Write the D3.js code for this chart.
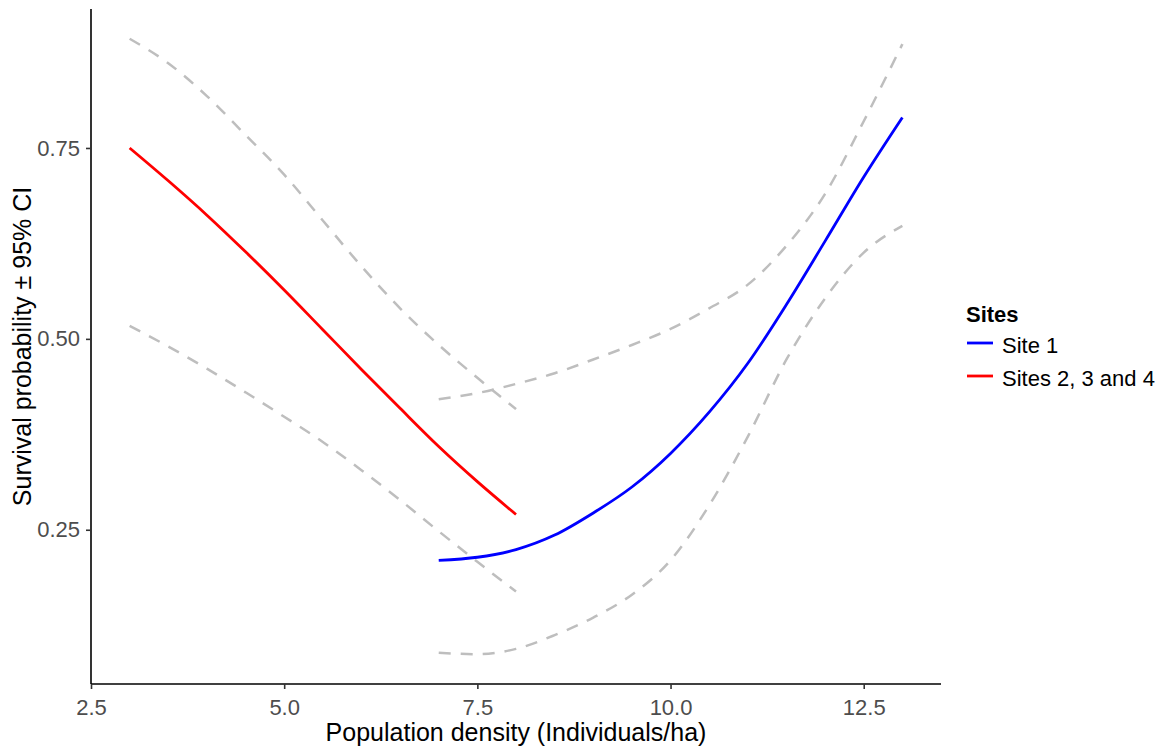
<!DOCTYPE html>
<html>
<head>
<meta charset="utf-8">
<script src="https://cdn.jsdelivr.net/npm/d3@7"></script>
<style>
  body { margin: 0; background: #fff; }
  svg { font-family: "Liberation Sans", Arial, sans-serif; }
</style>
</head>
<body>
<svg id="chart" width="1162" height="748"></svg>
<script>
// Population density (Individuals/ha)
const densityRed = [3, 3.5, 4, 4.5, 5, 5.5, 6, 6.5, 7, 7.5, 8];
const fitRed = [0.750, 0.707, 0.662, 0.614, 0.564, 0.512, 0.460, 0.409, 0.359, 0.313, 0.270];
const upperRed = [0.893, 0.861, 0.818, 0.767, 0.715, 0.655, 0.595, 0.540, 0.492, 0.449, 0.408];
const lowerRed = [0.517, 0.490, 0.461, 0.430, 0.398, 0.365, 0.328, 0.289, 0.248, 0.208, 0.169];

const densityBlue = [7, 7.5, 8, 8.5, 9, 9.5, 10, 10.5, 11, 11.5, 12, 12.5, 13];
const fitBlue = [0.210, 0.214, 0.224, 0.243, 0.272, 0.306, 0.350, 0.404, 0.468, 0.545, 0.628, 0.712, 0.790];
const upperBlue = [0.421, 0.429, 0.441, 0.455, 0.473, 0.492, 0.513, 0.540, 0.571, 0.622, 0.690, 0.785, 0.886];
const lowerBlue = [0.089, 0.087, 0.094, 0.112, 0.135, 0.165, 0.210, 0.282, 0.372, 0.473, 0.553, 0.613, 0.648];

const xTicks = [2.5, 5.0, 7.5, 10.0, 12.5];
const yTicks = [0.25, 0.50, 0.75];
const legendLabels = ['Site 1', 'Sites 2, 3 and 4'];
const legendColors = ['#0000FF', '#FF0000'];

const svg = d3.select('#chart');
const panel = { left: 91, right: 941, top: 9, bottom: 684 };

const x = d3.scaleLinear().domain([2.5, 13.5]).range([panel.left, panel.right]);
const y = d3.scaleLinear().domain([0.048, 0.932]).range([panel.bottom, panel.top]);

const line = d3.line()
  .x(d => x(d[0]))
  .y(d => y(d[1]))
  .curve(d3.curveMonotoneX);

const zip = (xs, ys) => xs.map((v, i) => [v, ys[i]]);

// confidence bands (dashed grey)
[[densityRed, upperRed], [densityRed, lowerRed], [densityBlue, upperBlue], [densityBlue, lowerBlue]]
  .forEach(function(pair) {
    svg.append('path')
      .attr('d', line(zip(pair[0], pair[1])))
      .attr('fill', 'none')
      .attr('stroke', '#BEBEBE')
      .attr('stroke-width', 2.5)
      .attr('stroke-dasharray', '12,10');
  });

// fitted lines
svg.append('path')
  .attr('d', line(zip(densityBlue, fitBlue)))
  .attr('fill', 'none')
  .attr('stroke', legendColors[0])
  .attr('stroke-width', 2.8);
svg.append('path')
  .attr('d', line(zip(densityRed, fitRed)))
  .attr('fill', 'none')
  .attr('stroke', legendColors[1])
  .attr('stroke-width', 2.8);

// axes
const xAxis = svg.append('g')
  .attr('transform', 'translate(0,' + panel.bottom + ')')
  .call(d3.axisBottom(x).tickValues(xTicks).tickFormat(d3.format('.1f')).tickSizeOuter(0).tickSize(5).tickPadding(10));
const yAxis = svg.append('g')
  .attr('transform', 'translate(' + panel.left + ',0)')
  .call(d3.axisLeft(y).tickValues(yTicks).tickFormat(d3.format('.2f')).tickSizeOuter(0).tickSize(5).tickPadding(6));

[xAxis, yAxis].forEach(function(g) {
  g.select('.domain').attr('stroke', '#000').attr('stroke-width', 1.6);
  g.selectAll('.tick line').attr('stroke', '#333').attr('stroke-width', 1.6);
  g.selectAll('.tick text').attr('fill', '#4D4D4D').style('font-size', '22px')
    .style('font-family', '"Liberation Sans", Arial, sans-serif');
});
// extend axis lines to the panel edges
xAxis.select('.domain').attr('d', 'M' + panel.left + ',0H' + panel.right);
yAxis.select('.domain').attr('d', 'M0,' + panel.top + 'V' + panel.bottom);

// axis titles
svg.append('text')
  .attr('x', (panel.left + panel.right) / 2)
  .attr('y', 741)
  .attr('text-anchor', 'middle')
  .style('font-size', '25px')
  .text('Population density (Individuals/ha)');
svg.append('text')
  .attr('transform', 'translate(31,' + (panel.top + panel.bottom) / 2 + ') rotate(-90)')
  .attr('text-anchor', 'middle')
  .style('font-size', '25px')
  .text('Survival probability ± 95% CI');

// legend
const legend = svg.append('g').attr('transform', 'translate(966,0)');
legend.append('text')
  .attr('x', 0)
  .attr('y', 322)
  .style('font-size', '22px')
  .style('font-weight', 'bold')
  .text('Sites');
legendLabels.forEach(function(label, i) {
  const cy = 343 + i * 33;
  legend.append('line')
    .attr('x1', 1).attr('x2', 27)
    .attr('y1', cy).attr('y2', cy)
    .attr('stroke', legendColors[i])
    .attr('stroke-width', 2.8);
  legend.append('text')
    .attr('x', 36)
    .attr('y', cy + 9.5)
    .style('font-size', '22px')
    .attr('fill', '#000')
    .text(label);
});
</script>
</body>
</html>
